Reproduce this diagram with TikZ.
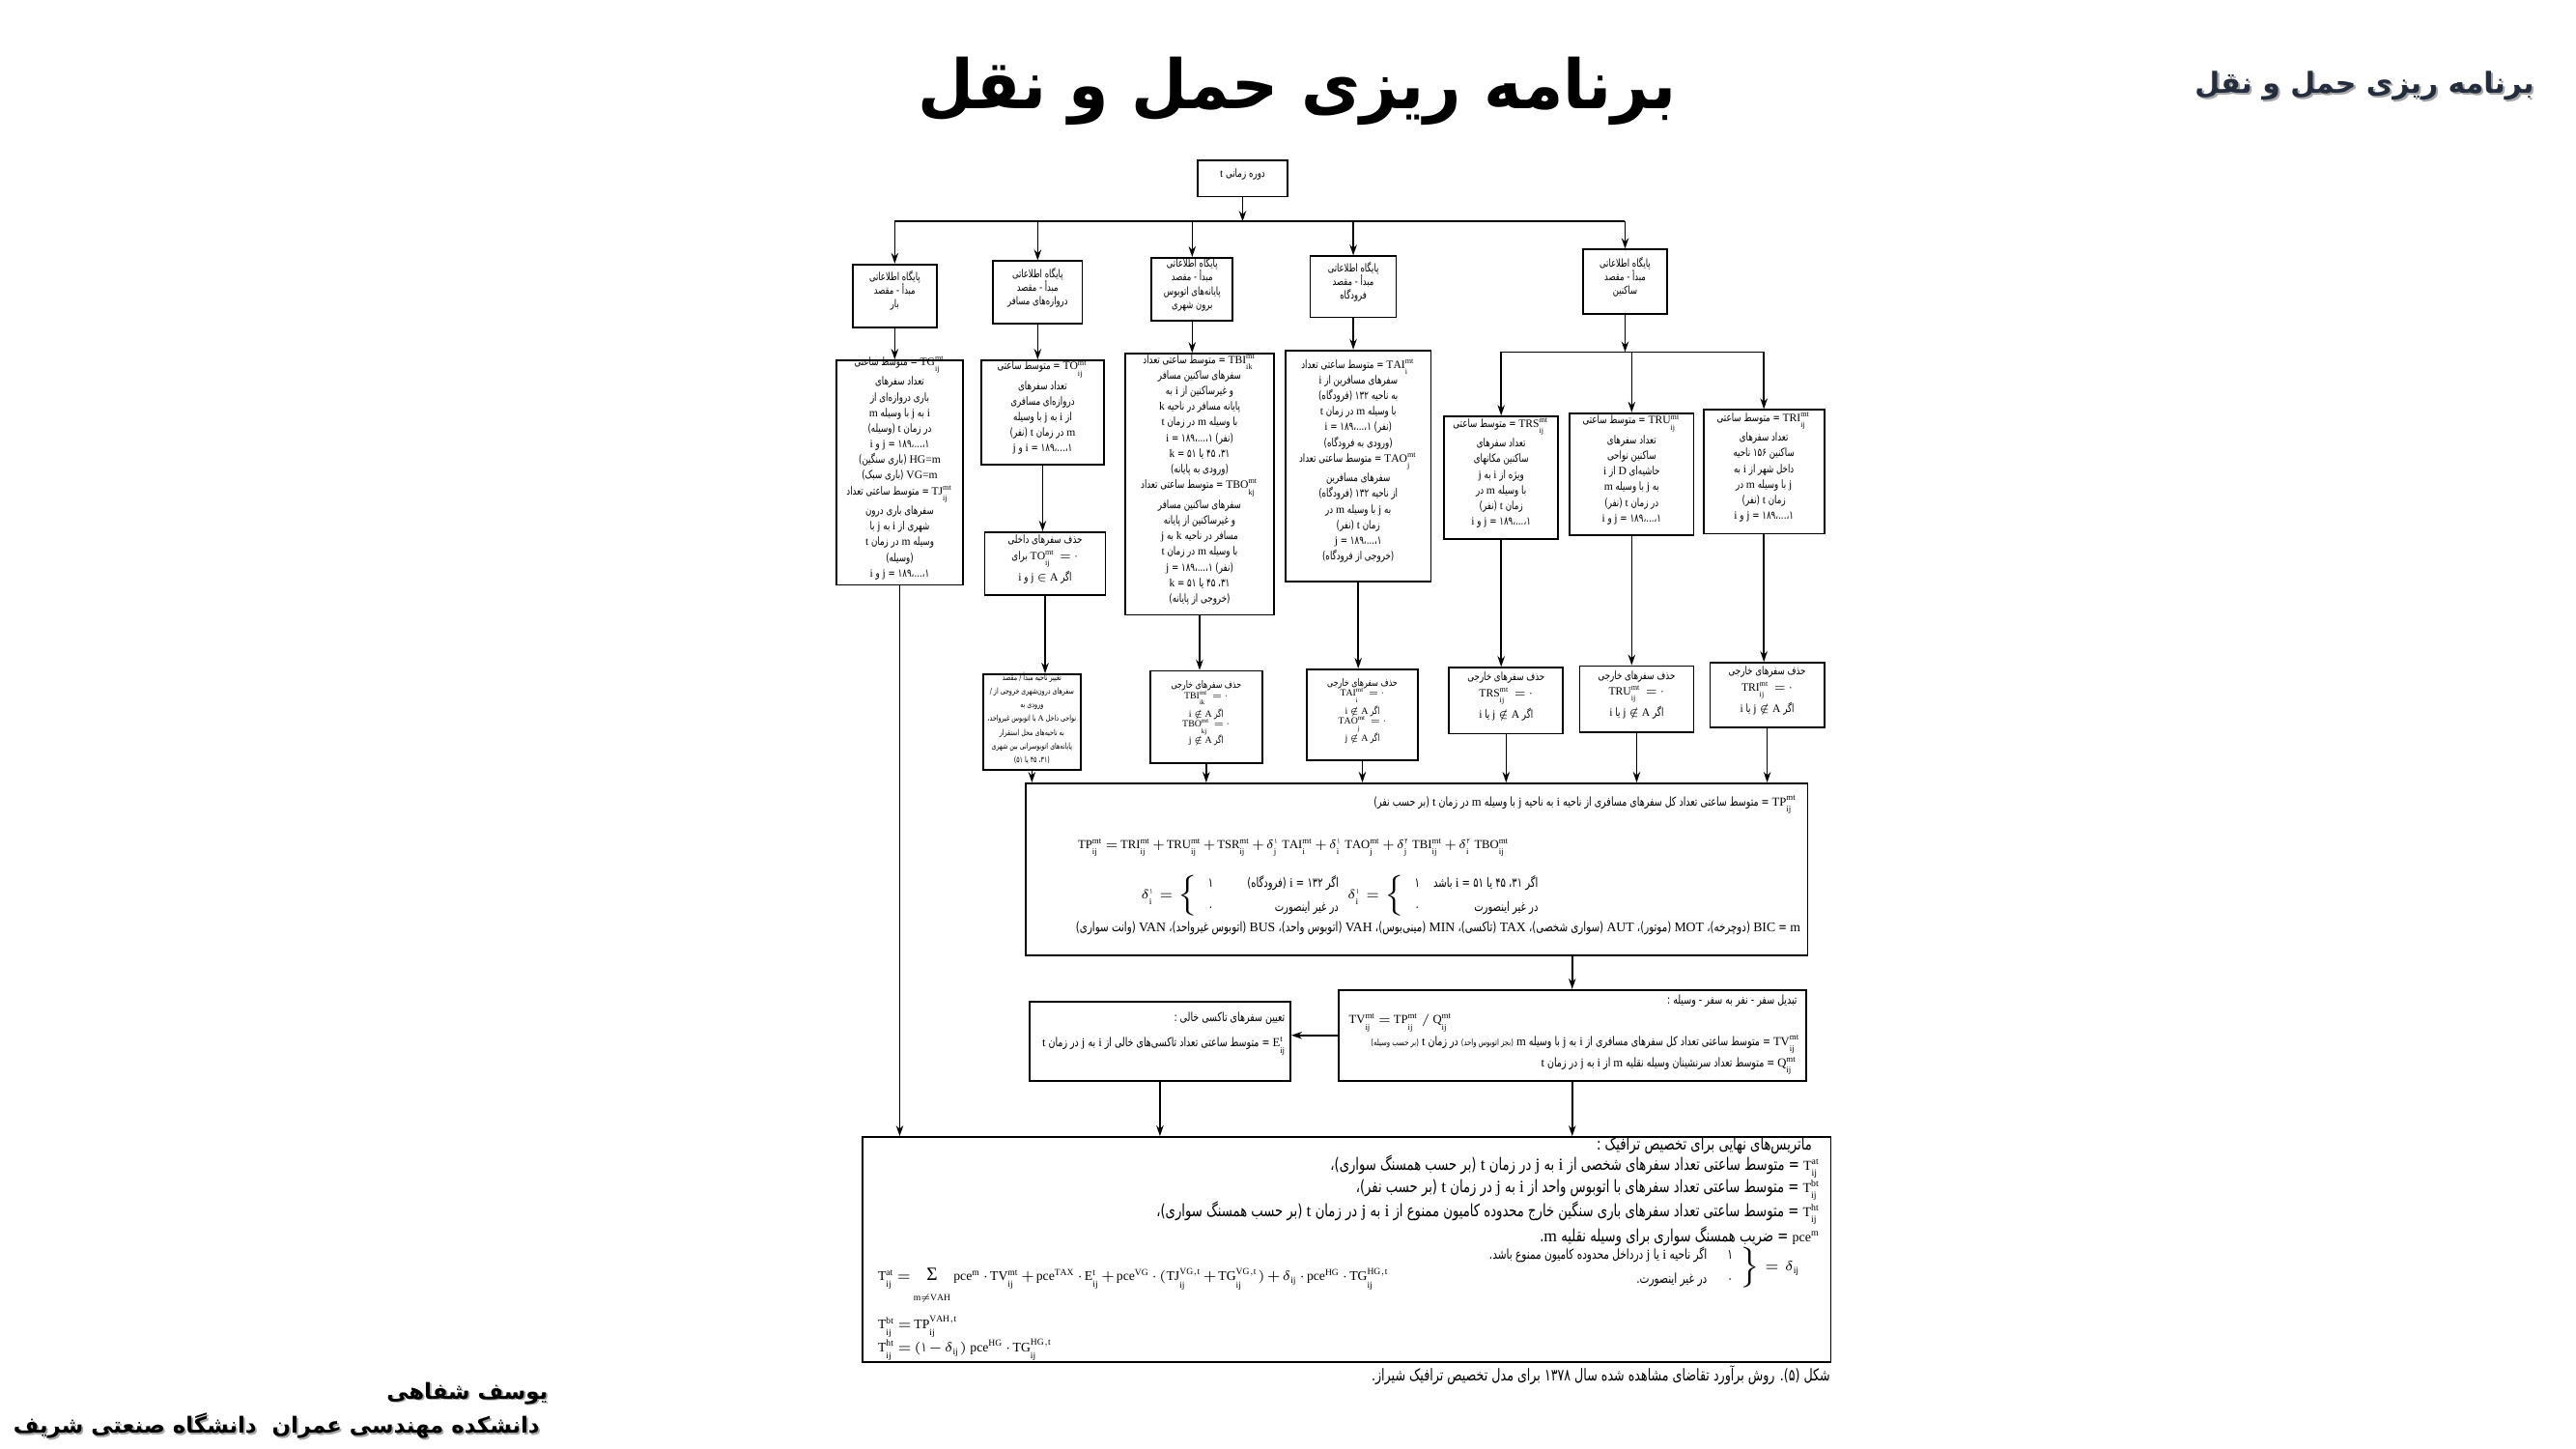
\RequirePackage{fix-cm}
\documentclass[tikz,border=0pt]{standalone}
\usepackage{fontspec}
\setmainfont{Liberation Serif}
\setmathrm{Liberation Serif}
\usetikzlibrary{fit,arrows.meta}
\TeXXeTstate=1
\newfontfamily\fatext[Script=Arabic,FakeStretch=0.75]{DejaVu Sans}
\newfontfamily\fabold[Script=Arabic]{DejaVu Sans Bold}
\newfontfamily\fatitle[Script=Arabic,FakeStretch=0.95]{DejaVu Sans Bold}
\newcommand\FA[1]{\beginR #1\endR}
\newcommand\EN[1]{\beginL #1\endL}
\newcommand\LT[1]{{\normalfont #1}}
\newcommand\MV[3]{\mathrm{#1}_{\mathrm{#2}}^{\mathrm{#3}}}
\newcommand\VV[3]{\EN{$\MV{#1}{#2}{#3}$}}
\newcommand\VS[3]{{\fontsize{4}{5}\selectfont\VV{#1}{#2}{#3}}}
\newcommand\ZE[3]{\EN{\fontsize{2.8}{3}\selectfont$\MV{#1}{#2}{#3} =$ ۰}}
\newcommand\pd[1]{\mbox{\fatext\fontsize{2.2}{3}\selectfont #1}}
\newcommand\tightmath{\medmuskip 1.5mu\relax\thickmuskip 2.5mu\relax}
\newcommand\SumOp{\mathop{\mbox{\normalfont\fontsize{5.5}{6}\selectfont Σ}}\limits}
\definecolor{headc}{RGB}{35,45,62}
\begin{document}
\begin{tikzpicture}[x=0.017107cm,y=-0.017107cm,
  box/.style={draw,line width=0.5pt,inner sep=0pt},
  bt/.style={font=\fatext\fontsize{3.3}{4.6}\selectfont,align=center},
  bt2/.style={font=\fatext\fontsize{3.2}{4.0}\selectfont,align=center},
  bt3/.style={font=\fatext\fontsize{3.0}{4.9}\selectfont,align=center},
  ln/.style={line width=0.45pt},
  arr/.style={line width=0.45pt,-{Stealth[length=1.1mm,width=0.75mm]}},
  tx/.style={inner sep=0pt,font=\fatext\fontsize{3.6}{4.6}\selectfont},
  tg/.style={inner sep=0pt,font=\fatext\fontsize{5}{6}\selectfont},
  fm/.style={inner sep=0pt,font=\fatext\fontsize{3.6}{4.5}\selectfont\tightmath},
  fm2/.style={inner sep=0pt,font=\fatext\fontsize{3.9}{4.5}\selectfont\tightmath},
]
\useasboundingbox (0,0) rectangle (1559,876.8);

% ---------- titles ----------
\node[inner sep=0pt,font=\fatitle\fontsize{20}{20}\selectfont] (title) at (785,55) {\FA{برنامه ریزی حمل و نقل}};
\node[inner sep=0pt,anchor=east,text=black!35,font=\fabold\fontsize{8.5}{8.5}\selectfont] (headsh) at (1535.2,53.2) {\FA{برنامه ریزی حمل و نقل}};
\node[inner sep=0pt,anchor=east,text=headc,font=\fabold\fontsize{8.5}{8.5}\selectfont] (head) at (1534,52) {\FA{برنامه ریزی حمل و نقل}};
\node[inner sep=0pt,anchor=east,text=black!35,font=\fabold\fontsize{6.5}{6.5}\selectfont] (auth1s) at (333,844) {\FA{یوسف شفاهی}};
\node[inner sep=0pt,anchor=east,font=\fabold\fontsize{6.5}{6.5}\selectfont] (auth1) at (332,843) {\FA{یوسف شفاهی}};
\node[inner sep=0pt,anchor=east,text=black!35,font=\fabold\fontsize{6.5}{6.5}\selectfont] (auth2s) at (328,864) {\FA{دانشکده مهندسی عمران\ \ دانشگاه صنعتی شریف}};
\node[inner sep=0pt,anchor=east,font=\fabold\fontsize{6.5}{6.5}\selectfont] (auth2) at (327,863) {\FA{دانشکده مهندسی عمران\ \ دانشگاه صنعتی شریف}};

% ---------- top ----------
\node[box,bt,fit={(725,97)(779,119)}] (tb) {\FA{دوره زمانی \LT{t}}};
\coordinate (busL) at (541,134);
\coordinate (busR) at (983,134);

% ---------- row 2 ----------
\node[box,bt2,fit={(516,160)(567,198)}] (b1) {\FA{پایگاه اطلاعاتی}\\\FA{مبدأ - مقصد}\\\FA{بار}};
\node[box,bt2,fit={(601,158)(655,196)}] (b2) {\FA{پایگاه اطلاعاتی}\\\FA{مبدأ - مقصد}\\\FA{دروازه‌های مسافر}};
\node[box,bt2,fit={(697,156)(746,194)}] (b3) {\FA{پایگاه اطلاعاتی}\\\FA{مبدأ - مقصد}\\\FA{پایانه‌های اتوبوس}\\\FA{برون شهری}};
\node[box,bt2,fit={(793,155)(845,192)}] (b4) {\FA{پایگاه اطلاعاتی}\\\FA{مبدأ - مقصد}\\\FA{فرودگاه}};
\node[box,bt2,fit={(958,151)(1009,190)}] (b5) {\FA{پایگاه اطلاعاتی}\\\FA{مبدأ - مقصد}\\\FA{ساکنین}};

% ---------- row 3 ----------
\node[box,bt,fit={(506,218)(583,354)}] (c1) {%
\FA{\VV{TG}{ij}{mt} = متوسط ساعتی}\\
\FA{تعداد سفرهای}\\
\FA{باری دروازه‌ای از}\\
\FA{\LT{i} به \LT{j} با وسیله \LT{m}}\\
\FA{در زمان \LT{t} (وسیله)}\\
\FA{۱،...،۱۸۹ = \LT{j} و \LT{i}}\\
\FA{\LT{HG=m} (باری سنگین)}\\
\FA{\LT{VG=m} (باری سبک)}\\
\FA{\VV{TJ}{ij}{mt} = متوسط ساعتی تعداد}\\
\FA{سفرهای باری درون}\\
\FA{شهری از \LT{i} به \LT{j} با}\\
\FA{وسیله \LT{m} در زمان \LT{t}}\\
\FA{(وسیله)}\\
\FA{۱،...،۱۸۹ = \LT{j} و \LT{i}}};
\node[box,bt,fit={(594,218)(668,281)}] (c2) {%
\FA{\VV{TO}{ij}{mt} = متوسط ساعتی}\\
\FA{تعداد سفرهای}\\
\FA{دروازه‌ای مسافری}\\
\FA{از \LT{i} به \LT{j} با وسیله}\\
\FA{\LT{m} در زمان \LT{t} (نفر)}\\
\FA{۱،...،۱۸۹ = \LT{i} و \LT{j}}};
\node[box,bt,fit={(596,322)(669,360)}] (c2b) {%
\FA{حذف سفرهای داخلی}\\
\FA{\EN{$\MV{TO}{ij}{mt} =$ ۰} برای}\\
\FA{اگر \EN{\LT{j} $\in$ \LT{A}} و \LT{i}}};
\node[box,bt,fit={(681,214)(771,372)}] (c3) {%
\FA{\VV{TBI}{ik}{mt} = متوسط ساعتی تعداد}\\
\FA{سفرهای ساکنین مسافر}\\
\FA{و غیرساکنین از \LT{i} به}\\
\FA{پایانه مسافر در ناحیه \LT{k}}\\
\FA{با وسیله \LT{m} در زمان \LT{t}}\\
\FA{(نفر) \EN{\LT{i} = ۱،...،۱۸۹}}\\
\FA{۳۱، ۴۵ یا ۵۱ = \LT{k}}\\
\FA{(ورودی به پایانه)}\\
\FA{\VV{TBO}{kj}{mt} = متوسط ساعتی تعداد}\\
\FA{سفرهای ساکنین مسافر}\\
\FA{و غیرساکنین از پایانه}\\
\FA{مسافر در ناحیه \LT{k} به \LT{j}}\\
\FA{با وسیله \LT{m} در زمان \LT{t}}\\
\FA{(نفر) \EN{\LT{j} = ۱،...،۱۸۹}}\\
\FA{۳۱، ۴۵ یا ۵۱ = \LT{k}}\\
\FA{(خروجی از پایانه)}};
\node[box,fit={(778,212)(866,352)}] (c4) {};
\node[bt,anchor=north,inner sep=0pt] (c4t) at (822,217) {%
\FA{\VV{TAI}{i}{mt} = متوسط ساعتی تعداد}\\
\FA{سفرهای مسافرین از \LT{i}}\\
\FA{به ناحیه ۱۳۲ (فرودگاه)}\\
\FA{با وسیله \LT{m} در زمان \LT{t}}\\
\FA{(نفر) \EN{\LT{i} = ۱،...،۱۸۹}}\\
\FA{(ورودی به فرودگاه)}\\
\FA{\VV{TAO}{j}{mt} = متوسط ساعتی تعداد}\\
\FA{سفرهای مسافرین}\\
\FA{از ناحیه ۱۳۲ (فرودگاه)}\\
\FA{به \LT{j} با وسیله \LT{m} در}\\
\FA{زمان \LT{t} (نفر)}\\
\FA{۱،...،۱۸۹ = \LT{j}}\\
\FA{(خروجی از فرودگاه)}};
\coordinate (sbL) at (909,213);
\coordinate (sbR) at (1067,213);
\node[box,bt,fit={(874,252)(943,326)}] (d1) {%
\FA{\VV{TRS}{ij}{mt} = متوسط ساعتی}\\
\FA{تعداد سفرهای}\\
\FA{ساکنین مکانهای}\\
\FA{ویژه از \LT{i} به \LT{j}}\\
\FA{با وسیله \LT{m} در}\\
\FA{زمان \LT{t} (نفر)}\\
\FA{۱،...،۱۸۹ = \LT{j} و \LT{i}}};
\node[box,bt,fit={(950,250)(1025,324)}] (d2) {%
\FA{\VV{TRU}{ij}{mt} = متوسط ساعتی}\\
\FA{تعداد سفرهای}\\
\FA{ساکنین نواحی}\\
\FA{حاشیه‌ای \LT{D} از \LT{i}}\\
\FA{به \LT{j} با وسیله \LT{m}}\\
\FA{در زمان \LT{t} (نفر)}\\
\FA{۱،...،۱۸۹ = \LT{j} و \LT{i}}};
\node[box,bt,fit={(1031,248)(1104,323)}] (d3) {%
\FA{\VV{TRI}{ij}{mt} = متوسط ساعتی}\\
\FA{تعداد سفرهای}\\
\FA{ساکنین ۱۵۶ ناحیه}\\
\FA{داخل شهر از \LT{i} به}\\
\FA{\LT{j} با وسیله \LT{m} در}\\
\FA{زمان \LT{t} (نفر)}\\
\FA{۱،...،۱۸۹ = \LT{j} و \LT{i}}};

% ---------- row 4 ----------
\node[box,align=center,font=\fatext\fontsize{2.4}{4.0}\selectfont,fit={(595,408)(654,466)}] (e2) {%
\FA{تغییر ناحیه مبدأ / مقصد}\\
\FA{سفرهای درون‌شهری خروجی از / ورودی به}\\
\FA{نواحی داخل \LT{A} با اتوبوس غیرواحد،}\\
\FA{به ناحیه‌های محل استقرار}\\
\FA{پایانه‌های اتوبوسرانی بین شهری}\\
\FA{(۳۱، ۴۵ یا ۵۱)}};
\node[box,bt3,fit={(696,406)(764,462)}] (e3) {%
\FA{حذف سفرهای خارجی}\\
\ZE{TBI}{ik}{mt}\\
\FA{اگر \EN{\LT{i} $\notin$ \LT{A}}}\\
\ZE{TBO}{kj}{mt}\\
\FA{اگر \EN{\LT{j} $\notin$ \LT{A}}}};
\node[box,bt3,fit={(791,405)(858,460)}] (e4) {%
\FA{حذف سفرهای خارجی}\\
\ZE{TAI}{i}{mt}\\
\FA{اگر \EN{\LT{i} $\notin$ \LT{A}}}\\
\ZE{TAO}{j}{mt}\\
\FA{اگر \EN{\LT{j} $\notin$ \LT{A}}}};
\node[box,bt,fit={(877,404)(946,444)}] (e5) {%
\FA{حذف سفرهای خارجی}\\
\EN{$\MV{TRS}{ij}{mt} =$ ۰}\\
\FA{اگر \EN{\LT{j} $\notin$ \LT{A}} یا \LT{i}}};
\node[box,bt,fit={(956,403)(1025,443)}] (e6) {%
\FA{حذف سفرهای خارجی}\\
\EN{$\MV{TRU}{ij}{mt} =$ ۰}\\
\FA{اگر \EN{\LT{j} $\notin$ \LT{A}} یا \LT{i}}};
\node[box,bt,fit={(1035,401)(1104,440)}] (e7) {%
\FA{حذف سفرهای خارجی}\\
\EN{$\MV{TRI}{ij}{mt} =$ ۰}\\
\FA{اگر \EN{\LT{j} $\notin$ \LT{A}} یا \LT{i}}};

% ---------- TP box ----------
\node[box,fit={(621,474)(1094,578)}] (f) {};
\node[tx,anchor=east] (ft1) at (1088,487) {\FA{\VV{TP}{ij}{mt} = متوسط ساعتی تعداد کل سفرهای مسافری از ناحیه \LT{i} به ناحیه \LT{j} با وسیله \LT{m} در زمان \LT{t} (بر حسب نفر)}};
\node[fm,anchor=west] (ft2) at (652,513) {\EN{$\MV{TP}{ij}{mt} = \MV{TRI}{ij}{mt} + \MV{TRU}{ij}{mt} + \MV{TSR}{ij}{mt} + \delta_{\mathrm j}^{\pd{۱}}\,\MV{TAI}{i}{mt} + \delta_{\mathrm i}^{\pd{۱}}\,\MV{TAO}{j}{mt} + \delta_{\mathrm j}^{\pd{۲}}\,\MV{TBI}{ij}{mt} + \delta_{\mathrm i}^{\pd{۲}}\,\MV{TBO}{ij}{mt}$}};
\node[fm,anchor=west,font=\fatext\fontsize{3.8}{5}\selectfont] (ft3) at (690,542) {\EN{$\delta_{\mathrm i}^{\pd{۱}} = \left\{\begin{array}{@{\hspace{3pt}}l@{\hspace{10pt}}r@{}}\mbox{۱} & \mbox{\FA{اگر ۱۳۲ = \LT{i} (فرودگاه)}}\\[2pt] \mbox{۰} & \mbox{\FA{در غیر اینصورت}}\end{array}\right.$}};
\node[fm,anchor=west,font=\fatext\fontsize{3.8}{5}\selectfont] (ft4) at (815,542) {\EN{$\delta_{\mathrm i}^{\pd{۱}} = \left\{\begin{array}{@{\hspace{3pt}}l@{\hspace{4pt}}r@{}}\mbox{۱} & \mbox{\FA{اگر ۳۱، ۴۵ یا ۵۱ = \LT{i} باشد}}\\[2pt] \mbox{۰} & \mbox{\FA{در غیر اینصورت}}\end{array}\right.$}};
\node[tx,anchor=east,font=\fatext\fontsize{3.9}{4.6}\selectfont] (ft5) at (1090,562) {\FA{\LT{m} = \LT{BIC} (دوچرخه)، \LT{MOT} (موتور)، \LT{AUT} (سواری شخصی)، \LT{TAX} (تاکسی)، \LT{MIN} (مینی‌بوس)، \LT{VAH} (اتوبوس واحد)، \LT{BUS} (اتوبوس غیرواحد)، \LT{VAN} (وانت سواری)}};

% ---------- TV box and E box ----------
\node[box,fit={(810,599)(1093,654)}] (h) {};
\node[tx,anchor=east] (ht1) at (1088,606) {\FA{تبدیل سفر - نفر به سفر - وسیله :}};
\node[fm,anchor=west] (ht2) at (816,619) {\EN{$\MV{TV}{ij}{mt} = \MV{TP}{ij}{mt} \,/\, \MV{Q}{ij}{mt}$}};
\node[tx,anchor=east] (ht3) at (1090,632) {\FA{\VV{TV}{ij}{mt} = متوسط ساعتی تعداد کل سفرهای مسافری از \LT{i} به \LT{j} با وسیله \LT{m} {\fontsize{2.6}{3}\selectfont (بجز اتوبوس واحد)} در زمان \LT{t} {\fontsize{2.6}{3}\selectfont (بر حسب وسیله)}}};
\node[tx,anchor=east] (ht4) at (1088,645) {\FA{\VV{Q}{ij}{mt} = متوسط تعداد سرنشینان وسیله نقلیه \LT{m} از \LT{i} به \LT{j} در زمان \LT{t}}};

\node[box,fit={(623,606)(781,654)}] (k) {};
\node[tx,anchor=east] (kt1) at (778,616) {\FA{تعیین سفرهای تاکسی خالی :}};
\node[tx,anchor=east] (kt2) at (779,633) {\FA{\VV{E}{ij}{t} = متوسط ساعتی تعداد تاکسی‌های خالی از \LT{i} به \LT{j} در زمان \LT{t}}};

% ---------- final box ----------
\node[box,fit={(522,688)(1108,824)}] (g) {};
\node[tg,anchor=east] (gt1) at (1097,693) {\FA{ماتریس‌های نهایی برای تخصیص ترافیک :}};
\node[tg,anchor=east] (gt2) at (1102,706) {\FA{\VS{T}{ij}{at} = متوسط ساعتی تعداد سفرهای شخصی از \LT{i} به \LT{j} در زمان \LT{t} (بر حسب همسنگ سواری)،}};
\node[tg,anchor=east] (gt3) at (1102,720) {\FA{\VS{T}{ij}{bt} = متوسط ساعتی تعداد سفرهای با اتوبوس واحد از \LT{i} به \LT{j} در زمان \LT{t} (بر حسب نفر)،}};
\node[tg,anchor=east] (gt4) at (1102,734) {\FA{\VS{T}{ij}{ht} = متوسط ساعتی تعداد سفرهای باری سنگین خارج محدوده کامیون ممنوع از \LT{i} به \LT{j} در زمان \LT{t} (بر حسب همسنگ سواری)،}};
\node[tg,anchor=east] (gt5) at (1102,748) {\FA{{\fontsize{4}{5}\selectfont\EN{$\mathrm{pce}^{\mathrm m}$}} = ضریب همسنگ سواری برای وسیله نقلیه \LT{m}.}};
\node[tx,anchor=east,font=\fatext\fontsize{4}{5}\selectfont] (gt6) at (1090,767) {\EN{$\left.\begin{array}{@{}r@{\hspace{6pt}}l@{\hspace{2pt}}}\mbox{\FA{اگر ناحیه \LT{i} یا \LT{j} درداخل محدوده کامیون ممنوع باشد.}} & \mbox{۱}\\[2pt] \mbox{\FA{در غیر اینصورت.}} & \mbox{۰}\end{array}\right\} = \delta_{\mathrm{ij}}$}};
\node[fm2,anchor=west] (gt7) at (531,779) {\EN{$\MV{T}{ij}{at} = \SumOp_{\mathrm{m}\neq\mathrm{VAH}} \mathrm{pce}^{\mathrm m}\cdot\MV{TV}{ij}{mt} + \mathrm{pce}^{\mathrm{TAX}}\cdot\MV{E}{ij}{t} + \mathrm{pce}^{\mathrm{VG}}\cdot(\MV{TJ}{ij}{VG,t} + \MV{TG}{ij}{VG,t}) + \delta_{\mathrm{ij}}\cdot\mathrm{pce}^{\mathrm{HG}}\cdot\MV{TG}{ij}{HG,t}$}};
\node[fm2,anchor=west] (gt8) at (531,803) {\EN{$\MV{T}{ij}{bt} = \MV{TP}{ij}{VAH,t}$}};
\node[fm2,anchor=west] (gt9) at (531,817) {\EN{$\MV{T}{ij}{ht} = (\mbox{۱} - \delta_{\mathrm{ij}})\,\mathrm{pce}^{\mathrm{HG}}\cdot\MV{TG}{ij}{HG,t}$}};
\node[inner sep=0pt,anchor=east,font=\fatext\fontsize{4.8}{5}\selectfont] (cap) at (1108,832) {\FA{شکل (۵). روش برآورد تقاضای مشاهده شده سال ۱۳۷۸ برای مدل تخصیص ترافیک شیراز.}};

% ---------- connectors ----------
\draw[ln] (busL) -- (busR);
\draw[arr] (tb.south) -- (tb.south |- busL);
\foreach \n in {b1,b2,b3,b4,b5}{\draw[arr] (\n.north |- busL) -- (\n.north);}
\draw[arr] (b1.south) -- (b1.south |- c1.north);
\draw[arr] (b2.south) -- (b2.south |- c2.north);
\draw[arr] (b3.south) -- (b3.south |- c3.north);
\draw[arr] (b4.south) -- (b4.south |- c4.north);
\draw[arr] (b5.south) -- (b5.south |- sbL);
\draw[ln] (sbL) -- (sbR);
\foreach \n in {d1,d2,d3}{\draw[arr] (\n.north |- sbL) -- (\n.north);}
\draw[arr] (c2.south) -- (c2.south |- c2b.north);
\draw[arr] (c2b.south) -- (c2b.south |- e2.north);
\draw[arr] (c3.south) -- (c3.south |- e3.north);
\draw[arr] (c4.south) -- (c4.south |- e4.north);
\draw[arr] (d1.south) -- (d1.south |- e5.north);
\draw[arr] (d2.south) -- (d2.south |- e6.north);
\draw[arr] (d3.south) -- (d3.south |- e7.north);
\foreach \n in {e2,e3,e4,e5,e6,e7}{\draw[arr] (\n.south) -- (\n.south |- f.north);}
\draw[arr] (c1.south) -- (c1.south |- g.north);
\draw[arr] (h.north |- f.south) -- (h.north);
\draw[arr] (h.west) -- (h.west -| k.east);
\draw[arr] (k.south) -- (k.south |- g.north);
\draw[arr] (h.south) -- (h.south |- g.north);
\end{tikzpicture}
\end{document}
